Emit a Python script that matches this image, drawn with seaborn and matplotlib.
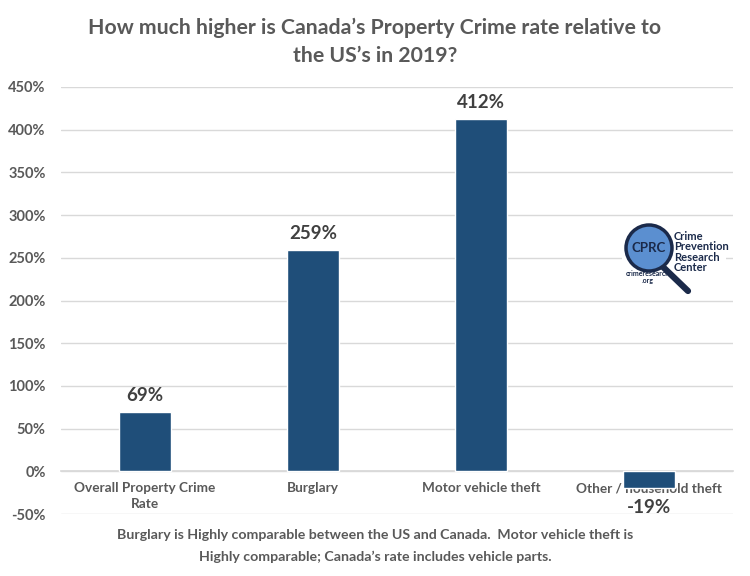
import matplotlib
matplotlib.use("Agg")
import matplotlib.pyplot as plt
import seaborn as sns
import pandas as pd
from matplotlib.patches import Ellipse, Rectangle
from matplotlib.lines import Line2D

categories = ["Overall Property Crime\nRate", "Burglary", "Motor vehicle theft", "Other / household theft"]
values = [69, 259, 412, -19]
labels = ["69%", "259%", "412%", "-19%"]
yticks = [-50, 0, 50, 100, 150, 200, 250, 300, 350, 400, 450]

df = pd.DataFrame({"category": categories, "value": values})

sns.set_theme(style="white")
plt.rcParams["font.family"] = ["Lato", "DejaVu Sans"]

grey = "#595959"
bar_color = "#1F4E79"

fig = plt.figure(figsize=(7.5, 5.76), dpi=100)
ax = fig.add_axes([61 / 750, 1 - 514 / 576, 672 / 750, 427 / 576])

sns.barplot(data=df, x="category", y="value", color=bar_color, width=0.31,
            saturation=1, ax=ax, zorder=3)

ax.set_ylim(-50, 450)
ax.set_yticks(yticks)
ax.set_yticklabels([f"{t}%" for t in yticks], fontsize=10.5, fontweight="bold", color=grey)
ax.grid(axis="y", color="#D9D9D9", linewidth=1, zorder=0)
ax.set_xlabel("")
ax.set_ylabel("")
for s in ["top", "right", "left"]:
    ax.spines[s].set_visible(False)
ax.spines["bottom"].set_position(("data", 0))
ax.spines["bottom"].set_color("#D9D9D9")
ax.tick_params(axis="both", length=0)
ax.tick_params(axis="y", pad=11)
ax.tick_params(axis="x", pad=8)
ax.set_xticks(range(len(categories)))
ax.set_xticklabels(categories, fontsize=9.8, fontweight="bold", color=grey, linespacing=1.35)
for t in ax.get_xticklabels():
    t.set_zorder(1)

for i, (v, lab) in enumerate(zip(values, labels)):
    if v >= 0:
        ax.text(i, v + 10, lab, ha="center", va="bottom", fontsize=13.5,
                fontweight="bold", color="#404040")
    else:
        ax.text(i, -33, lab, ha="center", va="top", fontsize=13.5,
                fontweight="bold", color="#404040")

fig.text(0.5, 1 - 28 / 576, "How much higher is Canada\u2019s Property Crime rate relative to",
         ha="center", va="center", fontsize=15.3, fontweight="bold", color=grey)
fig.text(0.5, 1 - 56 / 576, "the US\u2019s in 2019?",
         ha="center", va="center", fontsize=15.3, fontweight="bold", color=grey)

fig.text(0.5, 1 - 535 / 576, "Burglary is Highly comparable between the US and Canada.  Motor vehicle theft is",
         ha="center", va="center", fontsize=10.2, fontweight="bold", color=grey)
fig.text(0.5, 1 - 557 / 576, "Highly comparable; Canada\u2019s rate includes vehicle parts.",
         ha="center", va="center", fontsize=10.2, fontweight="bold", color=grey)

# logo
W, H = 750, 576
def fx(px):
    return px / W
def fy(py):
    return 1 - py / H

fig.add_artist(Rectangle((fx(622), fy(300)), fx(104), 80 / H, transform=fig.transFigure,
                         facecolor="white", edgecolor="none", zorder=5))
fig.add_artist(Line2D([fx(662), fx(688)], [fy(266), fy(291)], transform=fig.transFigure,
                      color="#1B2A4A", linewidth=4.5, solid_capstyle="round", zorder=6))
fig.add_artist(Ellipse((fx(649), fy(248)), 2 * 23 / W, 2 * 23 / H, transform=fig.transFigure,
                       facecolor="#5B8FD0", edgecolor="#1B2A4A", linewidth=2.5, zorder=7))
fig.text(fx(649), fy(248), "CPRC", ha="center", va="center", fontsize=9.5,
         fontweight="bold", color="#1B2A4A", zorder=8)
fig.text(fx(674), fy(252), "Crime\nPrevention\nResearch\nCenter", ha="left", va="center",
         fontsize=8, fontweight="bold", color="#1B2A4A", linespacing=0.95, zorder=8)
fig.text(fx(648), fy(277), "crimeresearch\n.org", ha="center", va="center",
         fontsize=5, fontweight="bold", color="#1B2A4A", linespacing=0.9, zorder=8)

fig.savefig("out.png", dpi=100)
